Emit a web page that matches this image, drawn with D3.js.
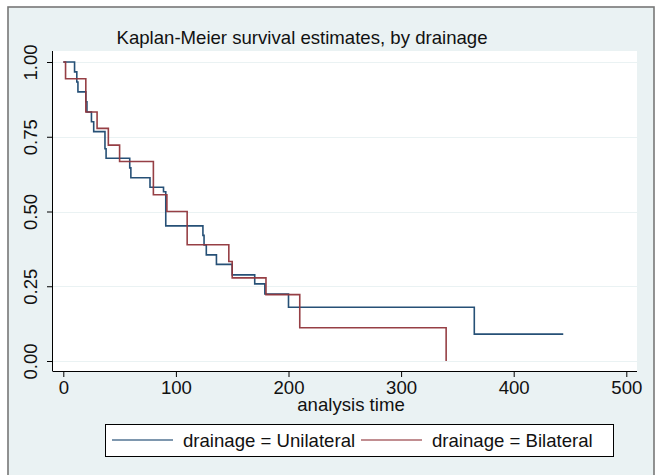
<!DOCTYPE html>
<html>
<head>
<meta charset="utf-8">
<script src="https://cdn.jsdelivr.net/npm/d3@7"></script>
<style>
  html, body { margin: 0; padding: 0; background: #ffffff; }
  svg { display: block; }
  text { font-family: "Liberation Sans", Arial, sans-serif; fill: #111; }
</style>
</head>
<body>
<svg id="chart" width="657" height="475"></svg>
<script>
// ---- data ----
const uniTime = [0, 10, 12, 13, 20, 21, 25, 27, 37, 38, 59, 60, 77, 89, 91, 124, 125, 127, 136, 150, 170, 179, 200, 365, 444];
const uniSurv = [1.0, 0.967, 0.933, 0.9, 0.867, 0.833, 0.8, 0.767, 0.71, 0.678, 0.646, 0.613, 0.581, 0.566, 0.452, 0.42, 0.388, 0.355, 0.323, 0.288, 0.258, 0.224, 0.18, 0.09, 0.09];
const biTime = [0, 2, 20, 30, 40, 50, 80, 92, 110, 147, 150, 180, 210, 340];
const biSurv = [1.0, 0.944, 0.833, 0.778, 0.722, 0.667, 0.556, 0.5, 0.389, 0.333, 0.278, 0.222, 0.111, 0.0];
const xTicks = [0, 100, 200, 300, 400, 500];
const yTicks = [0, 0.25, 0.5, 0.75, 1.0];
const seriesNames = ["drainage = Unilateral", "drainage = Bilateral"];
const titleText = "Kaplan-Meier survival estimates, by drainage";
const xTitle = "analysis time";

// ---- layout ----
const svg = d3.select("#chart");
const colors = ["#1a476f", "#90353b"];
const plot = { left: 53, right: 637, top: 51, bottom: 371 };
const fs = 18.6;

// outer frame
svg.append("rect").attr("x", 8).attr("y", 7).attr("width", 646).attr("height", 480)
  .attr("fill", "#eaf2f3").attr("stroke", "#777").attr("stroke-width", 1.6);

// plot region
svg.append("rect").attr("x", plot.left).attr("y", plot.top)
  .attr("width", plot.right - plot.left).attr("height", plot.bottom - plot.top)
  .attr("fill", "#ffffff");

const x = d3.scaleLinear().domain([0, 500]).range([63.3, 626.3]);
const y = d3.scaleLinear().domain([0, 1]).range([361, 62]);

// gridlines
svg.append("g").selectAll("line").data(yTicks).join("line")
  .attr("x1", plot.left).attr("x2", plot.right)
  .attr("y1", d => Math.round(y(d)) + 0.5).attr("y2", d => Math.round(y(d)) + 0.5)
  .attr("stroke", "#eaf2f3").attr("stroke-width", 1.2);

// axes
const xAxis = d3.axisBottom(x).tickValues(xTicks).tickSize(6).tickPadding(4).tickSizeOuter(0);
const gx = svg.append("g").attr("transform", `translate(0,${plot.bottom})`).call(xAxis);
gx.select(".domain").remove();
gx.append("line").attr("x1", plot.left).attr("x2", plot.right).attr("y1", 0.5).attr("y2", 0.5).attr("stroke", "#000");
gx.selectAll(".tick line").attr("stroke", "#000");
gx.selectAll(".tick text").attr("font-size", fs).attr("fill", "#111")
  .attr("font-family", "Liberation Sans, Arial, sans-serif").attr("dy", "0.62em").attr("y", 11);

const yAxis = d3.axisLeft(y).tickValues(yTicks).tickSize(6).tickFormat(d3.format(".2f")).tickSizeOuter(0);
const gy = svg.append("g").attr("transform", `translate(${plot.left},0)`).call(yAxis);
gy.select(".domain").remove();
gy.append("line").attr("x1", -0.5).attr("x2", -0.5).attr("y1", plot.top).attr("y2", plot.bottom + 0.5).attr("stroke", "#000");
gy.selectAll(".tick line").attr("stroke", "#000");
gy.selectAll(".tick text")
  .attr("font-size", fs).attr("fill", "#111")
  .attr("font-family", "Liberation Sans, Arial, sans-serif")
  .attr("x", null).attr("dy", null)
  .attr("text-anchor", "middle")
  .attr("transform", "translate(-16.5,0) rotate(-90)");

// curves
const line = d3.line().x(d => x(d[0])).y(d => y(d[1])).curve(d3.curveStepAfter);
const uni = uniTime.map((t, i) => [t, uniSurv[i]]);
const bi = biTime.map((t, i) => [t, biSurv[i]]);
[uni, bi].forEach((data, i) => {
  svg.append("path").datum(data).attr("d", line)
    .attr("fill", "none").attr("stroke", colors[i]).attr("stroke-width", 1.6)
    .attr("stroke-opacity", 0.95);
});

// title
svg.append("text").attr("x", 302).attr("y", 44).attr("text-anchor", "middle")
  .attr("font-size", fs).text(titleText);

// x title
svg.append("text").attr("x", 351).attr("y", 411).attr("text-anchor", "middle")
  .attr("font-size", fs).text(xTitle);

// legend
const lg = svg.append("g");
lg.append("rect").attr("x", 105.5).attr("y", 424.5).attr("width", 508).attr("height", 32)
  .attr("fill", "#fff").attr("stroke", "#000").attr("stroke-width", 1);
const legItems = [
  { x1: 112, x2: 173, tx: 183 },
  { x1: 361, x2: 422, tx: 432 }
];
legItems.forEach((it, i) => {
  lg.append("line").attr("x1", it.x1).attr("x2", it.x2).attr("y1", 440).attr("y2", 440)
    .attr("stroke", colors[i]).attr("stroke-width", 1.6).attr("stroke-opacity", 0.75);
  lg.append("text").attr("x", it.tx).attr("y", 446.5).attr("font-size", fs).text(seriesNames[i]);
});
</script>
</body>
</html>
